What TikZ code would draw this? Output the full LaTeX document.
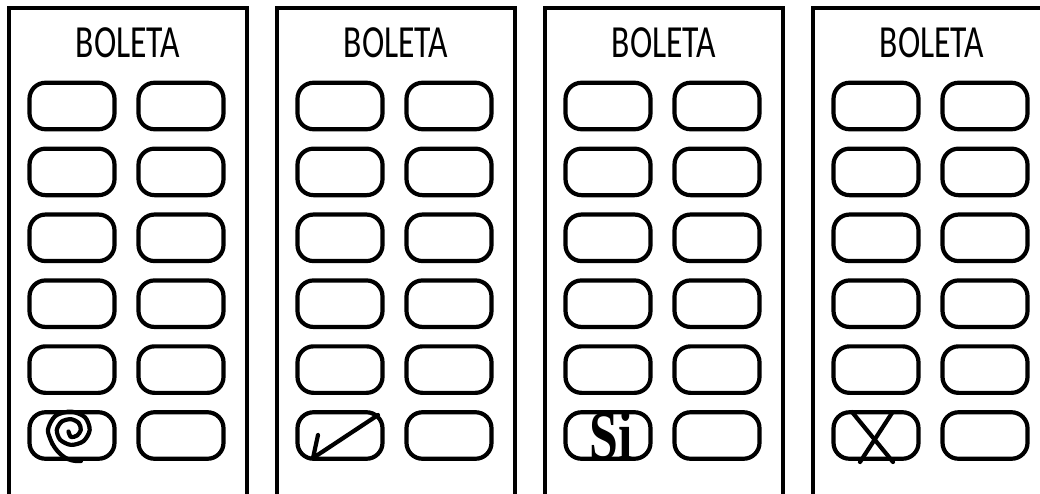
\documentclass[tikz,border=0pt]{standalone}
\usepackage{fontspec}
\newfontfamily\titlefont{Carlito}
\newfontfamily\sifont{Liberation Serif}
\begin{document}
\begin{tikzpicture}[x=1pt,y=-1pt,
  panel/.style={draw,line width=3.6pt},
  slot/.style={draw,line width=4.2pt,rounded corners=16pt,minimum width=85pt,minimum height=46.5pt,inner sep=0pt},
  title/.style={font=\titlefont\fontsize{46}{46}\selectfont,xscale=0.73,inner sep=0pt},
  handmark/.style={line width=4.2pt,line cap=round,line join=round}]
\useasboundingbox (0,0) rectangle (1040,493);
\clip (0,0) rectangle (1040,493);
\foreach \i/\x in {1/9,2/277,3/545,4/813} {
  \draw[panel] (\x,520) -- (\x,8) -- (\x+238,8) -- (\x+238,520);
  \node[title] (t\i) at (\x+119,43) {BOLETA};
  \foreach \r in {1,...,6} {
    \node[slot] (b\i-\r-1) at (\x+63,{106+(\r-1)*65.9}) {};
    \node[slot] (b\i-\r-2) at (\x+172,{106+(\r-1)*65.9}) {};
  }
}
% panel 1: spiral
\coordinate (sp0) at (52.5,444.0);
\coordinate (sp2) at (81,461);
\draw[handmark] plot[smooth] coordinates {
  (68.5,431.5) (71,437) (77.1,435.5)
  (80.8,430) (78.7,423.0) (71,419.2) (61.7,421.6) (56.8,430) (60.2,439.8)
  (71,444.9) (83.4,441.2) (89.7,430) (85.0,417.3) (71,411.6) (55.4,415.9)
  (47.9,430) (52.5,444.0)};
\draw[handmark] (sp0) to[out=-60,in=185] (sp2);
% panel 2: arrow-like check
\coordinate (c1) at (378,415);
\coordinate (c2) at (313,458);
\coordinate (c3) at (318,435);
\draw[handmark] (c1) -- (c2) -- (c3);
% panel 3: Si
\node[font=\sifont\bfseries\fontsize{70}{70}\selectfont,xscale=0.74,inner sep=0pt] (si) at (611,436) {Si};
% panel 4: X
\coordinate (x1) at (852,412);
\coordinate (x2) at (893,462);
\coordinate (x3) at (892,413);
\coordinate (x4) at (860,462);
\draw[handmark] (x1) -- (x2);
\draw[handmark] (x3) -- (x4);
\end{tikzpicture}
\end{document}
